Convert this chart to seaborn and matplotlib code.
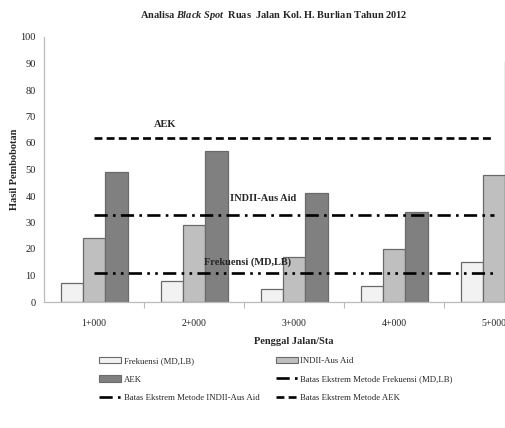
import matplotlib
matplotlib.use("Agg")
import matplotlib.pyplot as plt
from matplotlib.patches import Patch
from matplotlib.lines import Line2D
import numpy as np
import pandas as pd
import seaborn as sns

# Road segments (stations)
stations = ["1+000", "2+000", "3+000", "4+000", "5+000"]

# Weighting results per method
frekuensi = [7, 8, 5, 6, 15]
indii = [24, 29, 17, 20, 48]
aek = [49, 57, 41, 34, 91]

# Extreme-limit values per method
batas_frekuensi = [11, 11, 11, 11, 11]
batas_indii = [33, 33, 33, 33, 33]
batas_aek = [62, 62, 62, 62, 62]

series_names = ["Frekuensi (MD,LB)", "INDII-Aus Aid", "AEK"]
colors = ["#F2F2F2", "#BFBFBF", "#808080"]

df = pd.DataFrame({
    "Sta": stations * 3,
    "Metode": [series_names[0]] * 5 + [series_names[1]] * 5 + [series_names[2]] * 5,
    "Nilai": frekuensi + indii + aek,
})

sns.set_theme(style="white")
plt.rcParams["font.family"] = ["Liberation Serif", "DejaVu Serif"]
plt.rcParams["mathtext.fontset"] = "custom"
plt.rcParams["mathtext.it"] = "Liberation Serif:italic:bold"
plt.rcParams["mathtext.rm"] = "Liberation Serif:bold"

W, H = 505, 428
fig = plt.figure(figsize=(W / 100, H / 100), dpi=100)
ax = fig.add_axes([44 / W, (H - 302) / H, 500 / W, 265 / H])

sns.barplot(data=df, x="Sta", y="Nilai", hue="Metode", hue_order=series_names,
            palette=colors, width=0.67, edgecolor="#6a6a6a", linewidth=0.9,
            saturation=1, legend=False, ax=ax)

pos = np.arange(len(stations))
ls_frek = (0, (5, 2, 1, 2, 1, 2))
ls_indii = (0, (5, 2, 1, 2))
ls_aek = (0, (3, 1.6))
ax.plot(pos, batas_frekuensi, color="black", lw=1.9, linestyle=ls_frek, zorder=5)
ax.plot(pos, batas_indii, color="black", lw=1.9, linestyle=ls_indii, zorder=5)
ax.plot(pos, batas_aek, color="black", lw=1.9, linestyle=ls_aek, zorder=5)

# Labels for the limit lines
ax.text(0.71, 66.8, "AEK", ha="center", va="center", fontsize=7.5, fontweight="bold")
ax.text(1.69, 39.2, "INDII-Aus Aid", ha="center", va="center", fontsize=7.5, fontweight="bold")
ax.text(1.54, 15.1, "Frekuensi (MD,LB)", ha="center", va="center", fontsize=7.5, fontweight="bold")

ax.set_xlim(-0.5, 4.5)
ax.set_ylim(0, 100)
ax.set_yticks(np.arange(0, 101, 10))
ax.set_xticks(pos)
ax.set_xticks(np.arange(0.5, 4.5, 1), minor=True)
ax.tick_params(axis="x", which="major", length=0, labelsize=7, pad=12, colors="#222222")
ax.tick_params(axis="x", which="minor", length=4, direction="out", color="#bbbbbb", width=0.8)
ax.tick_params(axis="y", length=4, direction="out", color="#bbbbbb", width=0.8,
               labelsize=7.5, pad=2, labelcolor="#222222")
ax.tick_params(axis="x", which="both", bottom=True)
for s in ["top", "right"]:
    ax.spines[s].set_visible(False)
for s in ["left", "bottom"]:
    ax.spines[s].set_color("#bbbbbb")
    ax.spines[s].set_linewidth(0.9)

ax.set_xlabel("Penggal Jalan/Sta", fontsize=7.5, fontweight="bold")
ax.set_ylabel("Hasil Pembobotan", fontsize=7.5, fontweight="bold")
ax.yaxis.set_label_coords(-25 / 500, 0.5)
ax.xaxis.set_label_coords(0.5, -35 / 265)

fig.text(274 / W, 1 - 16 / H,
         r"Analisa $\mathit{Black\ Spot}$  Ruas  Jalan Kol. H. Burlian Tahun 2012",
         ha="center", va="center", fontsize=7.5, fontweight="bold")

edge = "#6a6a6a"
h_frek = Patch(facecolor=colors[0], edgecolor=edge, linewidth=0.8)
h_indii = Patch(facecolor=colors[1], edgecolor=edge, linewidth=0.8)
h_aek = Patch(facecolor=colors[2], edgecolor=edge, linewidth=0.8)
l_frek = Line2D([], [], color="black", lw=1.9, linestyle=ls_frek)
l_indii = Line2D([], [], color="black", lw=1.9, linestyle=ls_indii)
l_aek = Line2D([], [], color="black", lw=1.9, linestyle=ls_aek)

common = dict(frameon=False, fontsize=6.3, handlelength=2.5, handleheight=0.75,
              handletextpad=0.3, labelspacing=1.15, borderaxespad=0, borderpad=0,
              loc="upper left")
leg1 = fig.legend([h_frek, h_aek, l_indii],
                  ["Frekuensi (MD,LB)", "AEK", "Batas Ekstrem Metode INDII-Aus Aid"],
                  bbox_to_anchor=(99 / W, 1 - 357 / H), **common)
leg2 = fig.legend([h_indii, l_frek, l_aek],
                  ["INDII-Aus Aid", "Batas Ekstrem Metode Frekuensi (MD,LB)",
                   "Batas Ekstrem Metode AEK"],
                  bbox_to_anchor=(276 / W, 1 - 357 / H), **common)

fig.savefig("out.png", dpi=100)
